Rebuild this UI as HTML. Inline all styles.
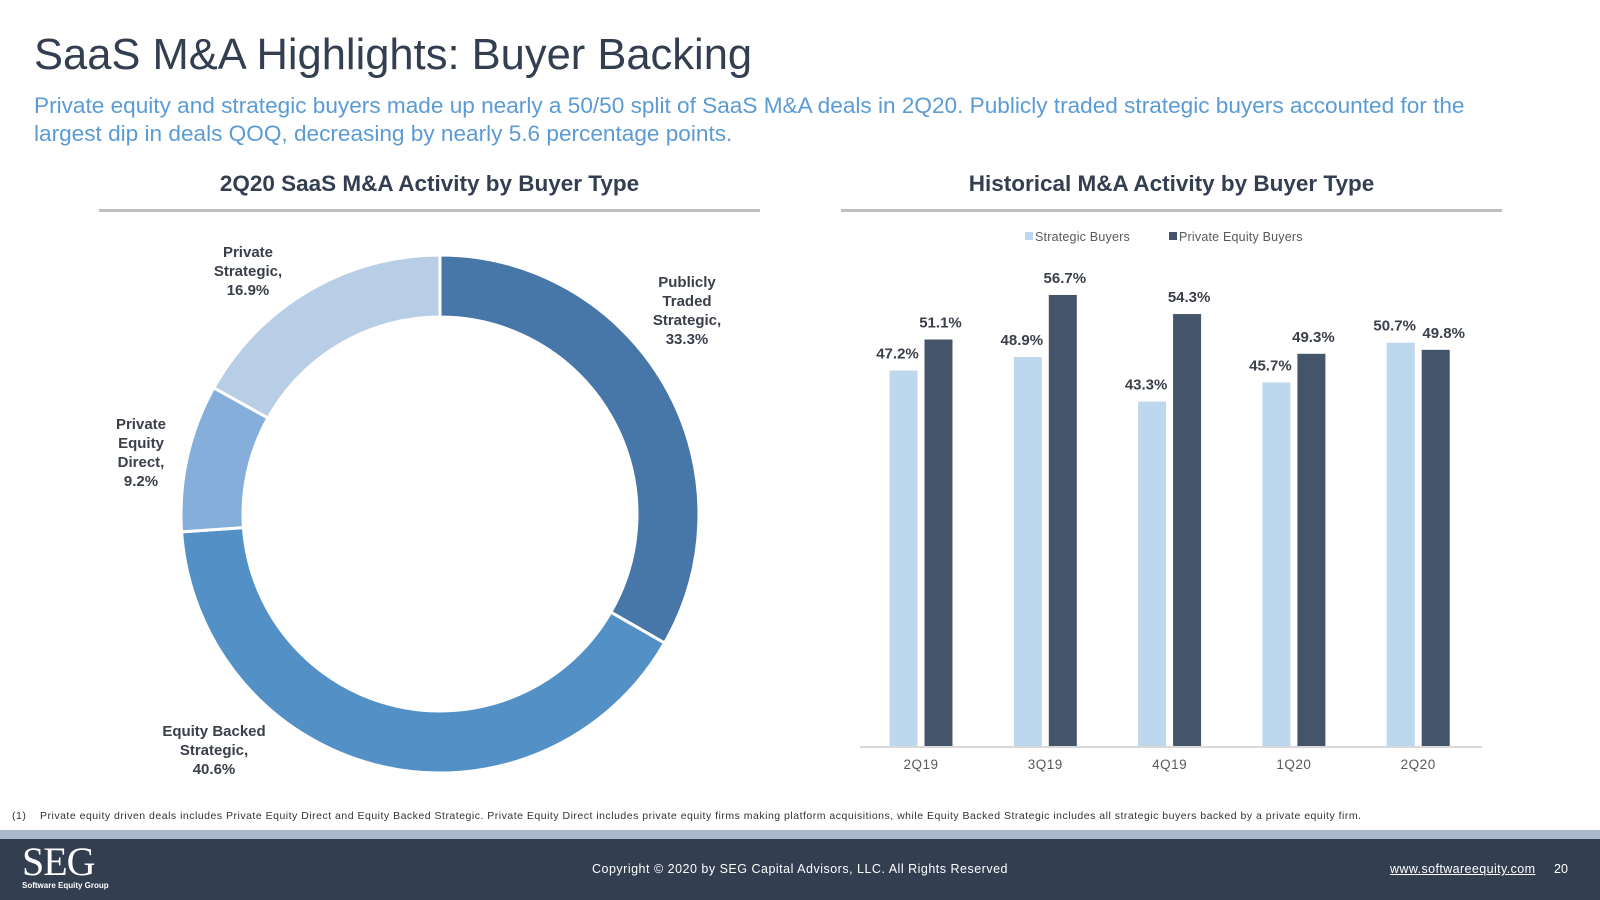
<!DOCTYPE html>
<html><head><meta charset="utf-8"><style>
body{margin:0;width:1600px;height:900px;overflow:hidden;background:#fff;font-family:"Liberation Sans",sans-serif;position:relative}
.a{position:absolute}
</style></head><body>
<div class="a" style="left:34px;top:31px;font-size:43.5px;color:#333f50;white-space:nowrap">SaaS M&amp;A Highlights: Buyer Backing</div>
<div class="a" style="left:34px;top:92px;width:1470px;font-size:22.6px;line-height:28px;color:#5b9bd5">Private equity and strategic buyers made up nearly a 50/50 split of SaaS M&amp;A deals in 2Q20. Publicly traded strategic buyers accounted for the largest dip in deals QOQ, decreasing by nearly 5.6 percentage points.</div>
<div class="a" style="left:99px;width:661px;top:171px;text-align:center;font-size:22.5px;font-weight:bold;color:#333f50">2Q20 SaaS M&amp;A Activity by Buyer Type</div>
<div class="a" style="left:99px;width:661px;top:209px;height:3px;background:#bfbfbf"></div>
<div class="a" style="left:841px;width:661px;top:171px;text-align:center;font-size:22.5px;font-weight:bold;color:#333f50">Historical M&amp;A Activity by Buyer Type</div>
<div class="a" style="left:841px;width:661px;top:209px;height:3px;background:#bfbfbf"></div>

<svg class="a" style="left:0;top:0" width="1600" height="900">
<g id="donut"></g>
<g id="bars"></g>
</svg>

<div class="a" style="left:12px;top:810px;font-size:10.5px;letter-spacing:0.5px;color:#333;white-space:nowrap">(1)&nbsp;&nbsp;&nbsp;&nbsp;Private equity driven deals includes Private Equity Direct and Equity Backed Strategic. Private Equity Direct includes private equity firms making platform acquisitions, while Equity Backed Strategic includes all strategic buyers backed by a private equity firm.</div>
<div class="a" style="left:0;top:830px;width:1600px;height:9px;background:#a9b8cc"></div>
<div class="a" style="left:0;top:839px;width:1600px;height:61px;background:#333e50"></div>
<div class="a" style="left:22px;top:844px;color:#fff;font-family:'Liberation Serif',serif;font-size:40px;line-height:36px;letter-spacing:-1px">SEG<div style="font-size:8px;line-height:12px;font-family:'Liberation Sans',sans-serif;font-weight:bold;letter-spacing:0">Software Equity Group</div></div>
<div class="a" style="left:0;width:1600px;top:862px;text-align:center;font-size:12.5px;letter-spacing:0.5px;color:#fff">Copyright © 2020 by SEG Capital Advisors, LLC. All Rights Reserved</div>
<div class="a" style="left:1390px;top:862px;font-size:12.5px;letter-spacing:0.4px;color:#fff;text-decoration:underline">www.softwareequity.com</div>
<div class="a" style="left:1554px;top:862px;font-size:12.5px;color:#fff">20</div>

<script>
const NS='http://www.w3.org/2000/svg';
function mk(p,t,at){const e=document.createElementNS(NS,t);for(const k in at)e.setAttribute(k,at[k]);p.appendChild(e);return e;}
// donut data
const sliceNames=['Publicly Traded Strategic','Equity Backed Strategic','Private Equity Direct','Private Strategic'];
const sliceValues=[33.3,40.6,9.2,16.9];
const sliceLabels=[['Publicly','Traded','Strategic,','33.3%'],['Equity Backed','Strategic,','40.6%'],['Private','Equity','Direct,','9.2%'],['Private','Strategic,','16.9%']];
// bar data
const categories=['2Q19','3Q19','4Q19','1Q20','2Q20'];
const strategicValues=[47.2,48.9,43.3,45.7,50.7];
const peValues=[51.1,56.7,54.3,49.3,49.8];

const colors=['#4677a8','#5290c6','#85aedb','#b8cde6'];
const labelPos=[[687,287],[214,736],[141,429],[248,257]];
const dg=document.getElementById('donut');
const cx=440,cy=514,R=259,r=197;
const tot=sliceValues.reduce((a,b)=>a+b,0);
let ang=0;
sliceValues.forEach((v,i)=>{
 const a0=ang/tot*2*Math.PI, a1=(ang+v)/tot*2*Math.PI; ang+=v;
 const p=(a,rad)=>[cx+rad*Math.sin(a),cy-rad*Math.cos(a)];
 const big=(a1-a0)>Math.PI?1:0;
 const [x0,y0]=p(a0,R),[x1,y1]=p(a1,R),[x2,y2]=p(a1,r),[x3,y3]=p(a0,r);
 const s=mk(dg,'path',{d:`M${x0},${y0}A${R},${R} 0 ${big} 1 ${x1},${y1}L${x2},${y2}A${r},${r} 0 ${big} 0 ${x3},${y3}Z`,fill:colors[i],stroke:'#fff','stroke-width':3});
 
 
 const t=mk(dg,'text',{x:labelPos[i][0],y:labelPos[i][1],'text-anchor':'middle','font-size':15,'font-weight':'bold',fill:'#3a3f4a'});
 
 
 sliceLabels[i].forEach((ln,j)=>{const ts=mk(t,'tspan',{x:labelPos[i][0],dy:j?19:0});ts.textContent=ln;});
});

const bg=document.getElementById('bars');
const base=746, pxPer=7.955;
const yS=v=>base-v*pxPer;
const xC=i=>921+i*124.3;
const bw=28;
const leg=[['Strategic Buyers','#bdd7ee',1025],['Private Equity Buyers','#44546a',1169]];
leg.forEach((l,i)=>{
 const s=mk(bg,'rect',{x:l[2],y:232,width:8,height:8,fill:l[1]});
 
 
 const t=mk(bg,'text',{x:l[2]+10,y:241,'font-size':12.5,fill:'#595959','letter-spacing':'0.2'});t.textContent=l[0];
 
 
});
categories.forEach((c,i)=>{
 const x=xC(i);
 [[strategicValues[i],'#bdd7ee',-17.5,'strategic'],[peValues[i],'#44546a',17.5,'pe']].forEach(([v,col,off,nm])=>{
  const b=mk(bg,'rect',{x:x+off-bw/2,y:yS(v),width:bw,height:base-yS(v),fill:col});
  
  
  let lx=x+off+(nm==='pe'?2:-6); if(nm==='pe'&&i===categories.length-1)lx+=6;
  const t=mk(bg,'text',{x:lx,y:yS(v)-12,'text-anchor':'middle','font-size':15,'font-weight':'bold',fill:'#3a3f4a'});
  t.textContent=v.toFixed(1)+'%';
  
  
 });
 const t=mk(bg,'text',{x:x,y:769,'text-anchor':'middle','font-size':13.5,fill:'#595959','letter-spacing':'0.5'});t.textContent=c;
 
 
});
const ax=mk(bg,'line',{x1:860,x2:1482,y1:base+1,y2:base+1,stroke:'#d9d9d9','stroke-width':2});


</script>
</body></html>
